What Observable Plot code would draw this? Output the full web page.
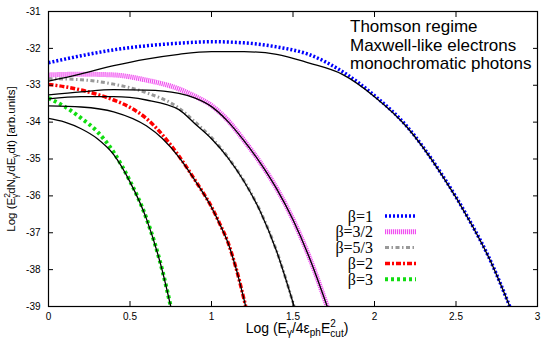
<!DOCTYPE html>
<html><head><meta charset="utf-8">
<script src="https://cdn.jsdelivr.net/npm/d3@7"></script>
<script src="https://cdn.jsdelivr.net/npm/@observablehq/plot@0.6"></script>
<style>body{margin:0;background:#fff}#chart{width:555px;height:345px}</style>
</head><body><div id="chart"></div>
<script>
// ---- data ----
const xTicks = [0, 0.5, 1, 1.5, 2, 2.5, 3];
const yTicks = [-39, -38, -37, -36, -35, -34, -33, -32, -31];
const titleLines = ["Thomson regime", "Maxwell-like electrons", "monochromatic photons"];
const legendLabels = ["β=1", "β=3/2", "β=5/3", "β=2", "β=3"];

// beta = 1 (exact, blue) and approximation (black)
const b1X = [0, 0.2, 0.4, 0.6, 0.8, 1.0, 1.2, 1.4, 1.6, 1.8, 2.0, 2.2, 2.4, 2.6, 2.7, 2.83];
const b1Y = [-32.39, -32.20, -32.04, -31.93, -31.86, -31.82, -31.85, -31.96, -32.17, -32.62, -33.28, -34.12, -35.33, -36.80, -37.65, -39.0];
const b1fX = [0, 0.2, 0.4, 0.6, 0.8, 1.0, 1.2, 1.4, 1.6, 1.8, 2.0, 2.2, 2.4, 2.6, 2.7, 2.83];
const b1fY = [-32.89, -32.69, -32.47, -32.29, -32.16, -32.09, -32.09, -32.16, -32.40, -32.70, -33.31, -34.14, -35.34, -36.81, -37.66, -39.0];
// beta = 3/2
const b15X = [0, 0.2, 0.4, 0.6, 0.8, 0.9, 1.0, 1.1, 1.2, 1.3, 1.4, 1.5, 1.6, 1.71];
const b15Y = [-32.72, -32.70, -32.72, -32.86, -33.10, -33.30, -33.55, -33.95, -34.50, -35.10, -35.80, -36.64, -37.66, -39.0];
const b15fX = [0, 0.2, 0.4, 0.6, 0.8, 0.9, 1.0, 1.1, 1.2, 1.3, 1.4, 1.5, 1.6, 1.71];
const b15fY = [-33.26, -33.18, -33.12, -33.13, -33.22, -33.35, -33.58, -33.98, -34.51, -35.11, -35.81, -36.65, -37.67, -39.0];
// beta = 5/3
const b53X = [0, 0.2, 0.4, 0.6, 0.8, 0.9, 1.0, 1.1, 1.2, 1.3, 1.4, 1.507];
const b53Y = [-32.82, -32.85, -32.97, -33.20, -33.62, -34.00, -34.42, -34.95, -35.60, -36.42, -37.50, -39.0];
const b53fX = [0, 0.2, 0.4, 0.6, 0.8, 0.9, 1.0, 1.1, 1.2, 1.3, 1.4, 1.507];
const b53fY = [-33.37, -33.31, -33.31, -33.40, -33.66, -34.05, -34.45, -34.96, -35.61, -36.43, -37.51, -39.0];
// beta = 2
const b2X = [0, 0.1, 0.2, 0.3, 0.4, 0.5, 0.6, 0.7, 0.8, 0.9, 1.0, 1.05, 1.1, 1.15, 1.21];
const b2Y = [-32.98, -33.04, -33.13, -33.25, -33.40, -33.60, -33.90, -34.35, -34.92, -35.58, -36.30, -36.75, -37.25, -37.95, -39.0];
const b2fX = [0, 0.2, 0.4, 0.6, 0.7, 0.8, 0.9, 1.0, 1.05, 1.1, 1.15, 1.21];
const b2fY = [-33.56, -33.59, -33.72, -34.10, -34.45, -34.95, -35.59, -36.31, -36.76, -37.26, -37.96, -39.0];
// beta = 3
const b3X = [0, 0.1, 0.2, 0.3, 0.4, 0.5, 0.6, 0.7, 0.75];
const b3Y = [-33.35, -33.58, -33.89, -34.26, -34.82, -35.60, -36.60, -38.05, -39.0];
const b3fX = [0, 0.1, 0.2, 0.3, 0.4, 0.5, 0.6, 0.7, 0.75];
const b3fY = [-33.90, -34.00, -34.18, -34.45, -34.88, -35.62, -36.61, -38.06, -39.0];

// ---- styles ----
const styles = [
  {stroke: "#0000ff", strokeWidth: 3.5, strokeDasharray: "2,2"},
  {stroke: "#f050f0", strokeWidth: 5, strokeDasharray: "1.2,0.8"},
  {stroke: "#999999", strokeWidth: 3, strokeDasharray: "4,2.5,1.5,2.5"},
  {stroke: "#ff0000", strokeWidth: 3.5, strokeDasharray: "5,2,2,2"},
  {stroke: "#11dd11", strokeWidth: 4, strokeDasharray: "3,3"}
];
const zip = (xs, ys) => xs.map((x, i) => ({x, y: ys[i]}));
const exact = [zip(b1X, b1Y), zip(b15X, b15Y), zip(b53X, b53Y), zip(b2X, b2Y), zip(b3X, b3Y)];
const approx = [zip(b1fX, b1fY), zip(b15fX, b15fY), zip(b53fX, b53fY), zip(b2fX, b2fY), zip(b3fX, b3fY)];

const marks = [];
for (let i = exact.length - 1; i >= 0; i--) {
  marks.push(Plot.line(exact[i], {x: "x", y: "y", curve: "monotone-x", clip: true, strokeLinecap: "butt", strokeLinejoin: "miter", ...styles[i]}));
}
for (const d of approx) {
  marks.push(Plot.line(d, {x: "x", y: "y", curve: "monotone-x", clip: true, stroke: "black", strokeWidth: 1.3}));
}
marks.push(
  Plot.frame({stroke: "black", strokeWidth: 1.2}),
  Plot.axisX({anchor: "bottom", ticks: xTicks, tickSize: -5, tickPadding: 11, tickFormat: d => String(d), label: null}),
  Plot.axisX({anchor: "top", ticks: xTicks, tickSize: -5, tickFormat: () => "", label: null}),
  Plot.axisY({anchor: "left", ticks: yTicks, tickSize: -5, tickPadding: 13, tickFormat: d => String(d), label: null}),
  Plot.axisY({anchor: "right", ticks: yTicks, tickSize: -5, tickFormat: () => "", label: null})
);

const chart = Plot.plot({
  width: 555, height: 345,
  marginLeft: 48, marginRight: 18, marginTop: 11, marginBottom: 39,
  style: {fontFamily: "'Liberation Sans', Arial, sans-serif", fontSize: "10px", background: "white", color: "black", overflow: "visible"},
  x: {domain: [0, 3]},
  y: {domain: [-39, -31]},
  marks
});
document.getElementById("chart").appendChild(chart);

// ---- annotations, axis titles, legend ----
const svg = d3.select(chart);
const sans = "'Liberation Sans', Arial, sans-serif";

// y axis title
const yl = svg.append("text")
  .attr("transform", "translate(15,159) rotate(-90)")
  .attr("text-anchor", "middle").attr("font-family", sans).attr("font-size", 11.5).attr("fill", "black");
yl.append("tspan").text("Log (E");
yl.append("tspan").attr("font-size", 8.5).attr("dy", -5).text("2");
yl.append("tspan").attr("font-size", 8.5).attr("dx", -5).attr("dy", 8).text("γ");
yl.append("tspan").attr("dy", -3).text("dN");
yl.append("tspan").attr("font-size", 8.5).attr("dy", 3).text("γ");
yl.append("tspan").attr("dy", -3).text("/dE");
yl.append("tspan").attr("font-size", 8.5).attr("dy", 3).text("γ");
yl.append("tspan").attr("dy", -3).text("dt) [arb.units]");

// x axis title
const xl = svg.append("text")
  .attr("x", 297).attr("y", 333)
  .attr("text-anchor", "middle").attr("font-family", sans).attr("font-size", 14).attr("fill", "black");
xl.append("tspan").text("Log (E");
xl.append("tspan").attr("font-size", 10).attr("dy", 3).text("γ");
xl.append("tspan").attr("dy", -3).text("/4ε");
xl.append("tspan").attr("font-size", 10).attr("dy", 3).text("ph");
xl.append("tspan").attr("dy", -3).text("E");
xl.append("tspan").attr("font-size", 10).attr("dy", -6).text("2");
xl.append("tspan").attr("font-size", 10).attr("dx", -5.5).attr("dy", 10).text("cut");
xl.append("tspan").attr("dy", -4).text(")");

// title block
titleLines.forEach((t, i) => {
  svg.append("text").attr("x", 350).attr("y", 32 + i * 18.5).attr("text-anchor", "start")
    .attr("font-family", sans).attr("font-size", 17).attr("fill", "black").text(t);
});

// legend
legendLabels.forEach((t, i) => {
  const yy = 216 + i * 15.8;
  svg.append("text").attr("x", 373).attr("y", yy + 5.5).attr("text-anchor", "end")
    .attr("font-family", "'Liberation Serif', 'Times New Roman', serif").attr("font-size", 16).attr("fill", "black").text(t);
  const s = styles[i];
  svg.append("line").attr("x1", 385).attr("x2", 416).attr("y1", yy).attr("y2", yy)
    .attr("stroke", s.stroke).attr("stroke-width", s.strokeWidth).attr("stroke-dasharray", s.strokeDasharray);
});
</script>
</body></html>
